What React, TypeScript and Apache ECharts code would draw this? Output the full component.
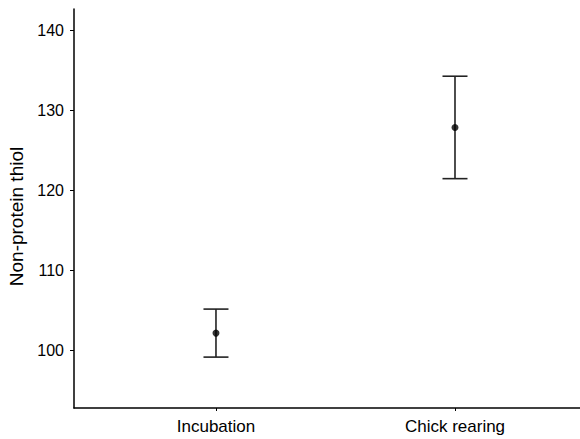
import React, { useEffect, useRef } from "react";
import * as echarts from "echarts";

const categories = ["Incubation", "Chick rearing"];
const means = [102.2, 127.9];
const lower = [99.2, 121.5];
const upper = [105.2, 134.3];
const yTicks = [100, 110, 120, 130, 140];

export default function App() {
  const ref = useRef<HTMLDivElement>(null);
  useEffect(() => {
    const chart = echarts.init(ref.current!, null, { renderer: "svg" });
    const font = "Liberation Sans, Arial, sans-serif";
    const xs = categories.map((_, i) => i + 1);
    chart.setOption({
      animation: false,
      grid: { left: 74, right: 0, top: 9, bottom: 31, containLabel: false, outerBoundsMode: "none" },
      xAxis: {
        type: "value",
        min: 0.406,
        max: 2.523,
        axisLine: { show: true, lineStyle: { color: "#000", width: 1.5 } },
        axisTick: { show: true, length: 3, customValues: xs, lineStyle: { color: "#000" } },
        axisLabel: {
          customValues: xs,
          formatter: (v: number) => categories[Math.round(v) - 1] ?? "",
          color: "#000",
          fontSize: 17,
          fontFamily: font,
          margin: 10,
        },
        splitLine: { show: false },
      },
      yAxis: {
        type: "value",
        min: 92.84,
        max: 142.7,
        name: "Non-protein thiol",
        nameLocation: "middle",
        nameGap: 48,
        nameTextStyle: { color: "#000", fontSize: 19, fontFamily: font, padding: [0, 16, 0, 0] },
        axisLine: { show: true, lineStyle: { color: "#000", width: 1.5 } },
        axisTick: { show: true, length: 4, customValues: yTicks, lineStyle: { color: "#000" } },
        axisLabel: {
          customValues: yTicks,
          color: "#000",
          fontSize: 16,
          fontFamily: font,
          margin: 10,
        },
        splitLine: { show: false },
      },
      series: [
        {
          type: "custom",
          data: xs.map((x, i) => [x, lower[i], upper[i]]),
          renderItem: (params: any, api: any) => {
            const x = api.value(0);
            const lo = api.coord([x, api.value(1)]);
            const hi = api.coord([x, api.value(2)]);
            const hw = 12.5;
            const style = { stroke: "#222", lineWidth: 1.6 };
            return {
              type: "group",
              children: [
                { type: "line", shape: { x1: lo[0], y1: lo[1], x2: hi[0], y2: hi[1] }, style },
                { type: "line", shape: { x1: hi[0] - hw, y1: hi[1], x2: hi[0] + hw, y2: hi[1] }, style },
                { type: "line", shape: { x1: lo[0] - hw, y1: lo[1], x2: lo[0] + hw, y2: lo[1] }, style },
              ],
            };
          },
          z: 2,
        },
        {
          type: "scatter",
          data: xs.map((x, i) => [x, means[i]]),
          symbol: "circle",
          symbolSize: 7,
          itemStyle: { color: "#000" },
          z: 3,
        },
      ],
    });
    return () => chart.dispose();
  }, []);
  return <div ref={ref} style={{ width: 580, height: 439, position: "absolute", left: 0, top: 0 }} />;
}
